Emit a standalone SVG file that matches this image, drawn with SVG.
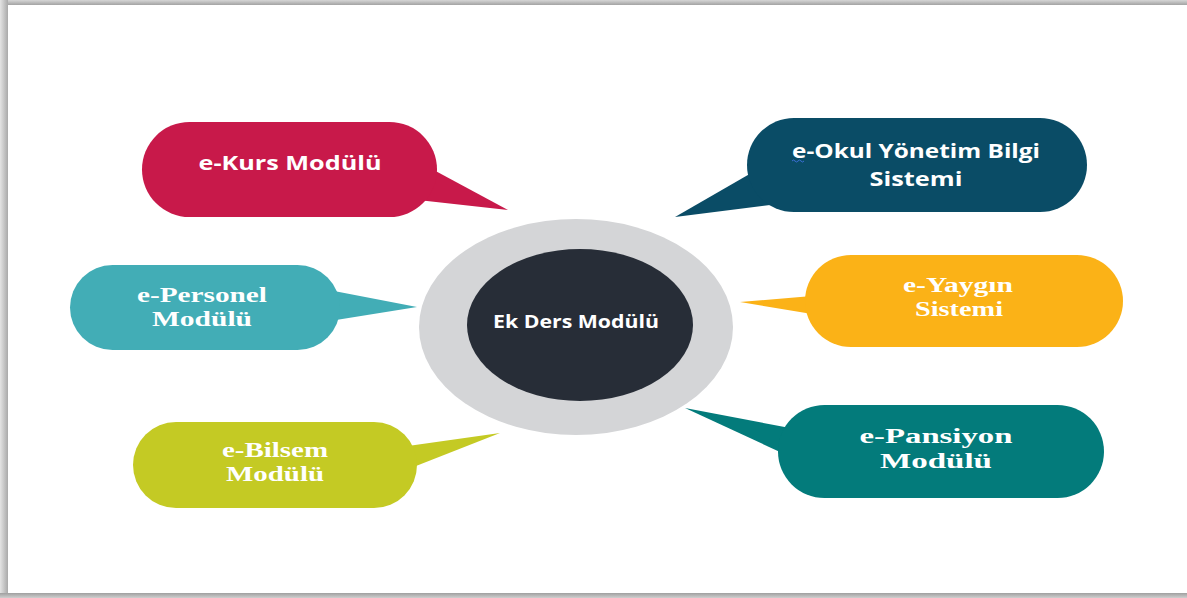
<svg xmlns="http://www.w3.org/2000/svg" width="1187" height="598" viewBox="0 0 1187 598">
<defs>
<linearGradient id="gl" x1="0" y1="0" x2="1" y2="0"><stop offset="0" stop-color="#e4e4e4"/><stop offset="1" stop-color="#a9a9a9"/></linearGradient>
<linearGradient id="gt" x1="0" y1="0" x2="0" y2="1"><stop offset="0" stop-color="#d6d6d6"/><stop offset="1" stop-color="#a3a3a3"/></linearGradient>
<linearGradient id="gb" x1="0" y1="0" x2="0" y2="1"><stop offset="0" stop-color="#9f9f9f"/><stop offset="1" stop-color="#cfcfcf"/></linearGradient>
<style>
.sans{font-family:"Open Sans","DejaVu Sans",sans-serif;font-weight:bold;fill:#fff;text-anchor:middle}
.serif{font-family:"Liberation Serif","Times New Roman",serif;font-weight:bold;fill:#fff;text-anchor:middle}
</style>
</defs>
<rect x="0" y="0" width="1187" height="598" fill="#ffffff"/>
<rect x="0" y="0" width="1187" height="5" fill="url(#gt)"/>
<rect x="0" y="0" width="8" height="598" fill="url(#gl)"/>
<rect x="0" y="593" width="1187" height="5" fill="url(#gb)"/>

<g id="connectors">
<polygon points="430,168 508,210 418,200" fill="#C8194A"/>
<polygon points="760,168 675,217 778,204" fill="#0A4C66"/>
<polygon points="334,291 417,307 336,320" fill="#42ADB6"/>
<polygon points="812,296 740,302 812,314" fill="#FBB217"/>
<polygon points="408,446 500,433 416,466" fill="#C4CA24"/>
<polygon points="790,428 685,408 780,452" fill="#037B7B"/>
</g>

<g id="center">
<ellipse cx="576" cy="327" rx="157" ry="108" fill="#D4D5D7"/>
<ellipse cx="580" cy="325" rx="113" ry="76" fill="#272D37"/>
<text class="sans" x="576" y="328" font-size="17" textLength="166" lengthAdjust="spacingAndGlyphs">Ek Ders Modülü</text>
</g>

<g id="e-kurs">
<rect x="142" y="122" width="295" height="95" rx="47.5" fill="#C8194A"/>
<text class="sans" x="290" y="170" font-size="19" textLength="183" lengthAdjust="spacingAndGlyphs">e-Kurs Modülü</text>
</g>

<g id="e-okul">
<rect x="747" y="118" width="340" height="94" rx="47" fill="#0A4C66"/>
<text class="sans" x="916" y="158" font-size="19" textLength="248" lengthAdjust="spacingAndGlyphs">e-Okul Yönetim Bilgi</text>
<text class="sans" x="916" y="186" font-size="19" textLength="93" lengthAdjust="spacingAndGlyphs">Sistemi</text>
<path d="M792,161 q1.5,-2 3,0 t3,0 t3,0 t3,0" fill="none" stroke="#3b6fd6" stroke-width="1"/>
</g>

<g id="e-personel">
<rect x="70" y="265" width="270" height="85" rx="42.5" fill="#42ADB6"/>
<text class="serif" x="202" y="302" font-size="20" textLength="130" lengthAdjust="spacingAndGlyphs">e-Personel</text>
<text class="serif" x="202" y="326" font-size="20" textLength="100" lengthAdjust="spacingAndGlyphs">Modülü</text>
</g>

<g id="e-yaygin">
<rect x="805" y="255" width="318" height="92" rx="46" fill="#FBB217"/>
<text class="serif" x="958" y="292" font-size="20" textLength="110" lengthAdjust="spacingAndGlyphs">e-Yaygın</text>
<text class="serif" x="959" y="316" font-size="20" textLength="88" lengthAdjust="spacingAndGlyphs">Sistemi</text>
</g>

<g id="e-bilsem">
<rect x="133" y="422" width="284" height="86" rx="43" fill="#C4CA24"/>
<text class="serif" x="275" y="457" font-size="20" textLength="106" lengthAdjust="spacingAndGlyphs">e-Bilsem</text>
<text class="serif" x="275" y="481" font-size="20" textLength="98" lengthAdjust="spacingAndGlyphs">Modülü</text>
</g>

<g id="e-pansiyon">
<rect x="778" y="405" width="326" height="93" rx="46.5" fill="#037B7B"/>
<text class="serif" x="936" y="443" font-size="20" textLength="153" lengthAdjust="spacingAndGlyphs">e-Pansiyon</text>
<text class="serif" x="936" y="468" font-size="20" textLength="112" lengthAdjust="spacingAndGlyphs">Modülü</text>
</g>
</svg>
